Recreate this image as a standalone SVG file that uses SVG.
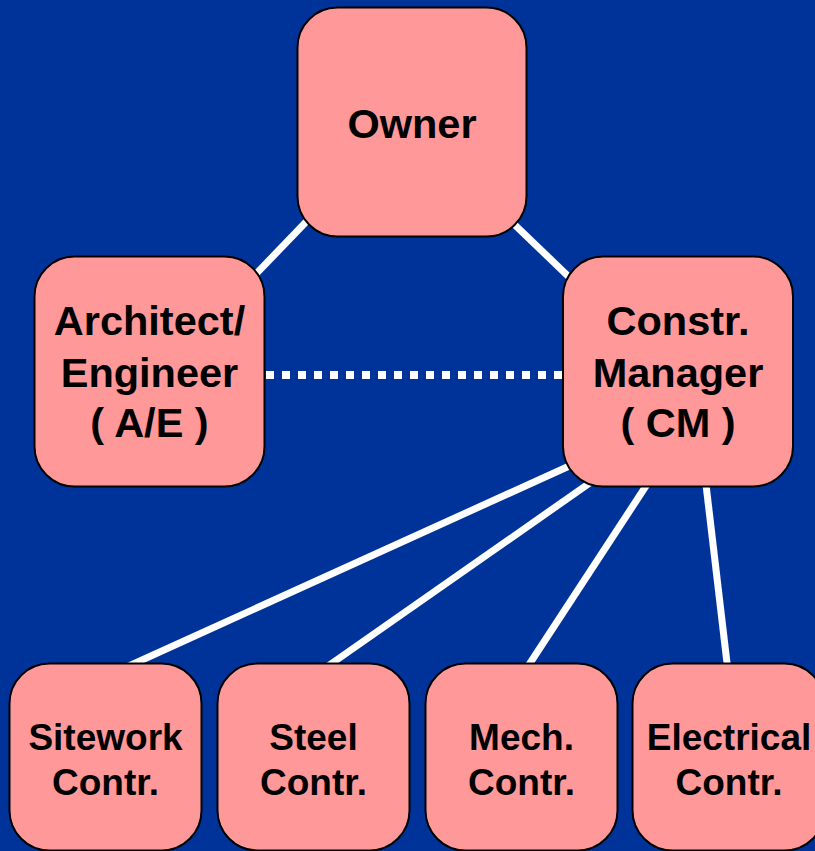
<svg xmlns="http://www.w3.org/2000/svg" width="815" height="851" viewBox="0 0 815 851">
  <defs>
    <style>
      .box { fill: #FF9999; stroke: #000000; stroke-width: 2; }
      .lbl { font-family: "Liberation Sans", Arial, sans-serif; font-weight: bold; fill: #000000; text-anchor: middle; }
      .big { font-size: 41.5px; }
      .small { font-size: 37px; }
      .link { stroke: #FFFFFF; stroke-width: 7; fill: none; }
      .dotted { stroke: #FFFFFF; stroke-width: 8; stroke-dasharray: 8 8; fill: none; }
    </style>
  </defs>

  <!-- background -->
  <rect x="0" y="0" width="815" height="851" fill="#003399"/>

  <!-- connectors -->
  <g id="connectors">
    <line class="link" x1="330" y1="197" x2="230" y2="301"/>
    <line class="link" x1="490" y1="201" x2="595" y2="302"/>
    <line class="dotted" x1="266" y1="375" x2="562" y2="375"/>
    <line class="link" x1="697" y1="408" x2="98" y2="680"/>
    <line class="link" x1="697" y1="408" x2="308" y2="680"/>
    <line class="link" x1="697" y1="408" x2="519" y2="680"/>
    <line class="link" x1="697" y1="408" x2="729" y2="680"/>
  </g>

  <!-- owner -->
  <g id="owner">
    <rect class="box" x="297.5" y="7.5" width="229" height="229" rx="40"/>
    <text class="lbl big" x="412" y="138">Owner</text>
  </g>

  <!-- architect / engineer -->
  <g id="architect-engineer">
    <rect class="box" x="34.5" y="256.5" width="230" height="230" rx="40"/>
    <text class="lbl big" x="149.5" y="335">Architect/</text>
    <text class="lbl big" x="149.5" y="387">Engineer</text>
    <text class="lbl big" x="149.5" y="437">( A/E )</text>
  </g>

  <!-- construction manager -->
  <g id="construction-manager">
    <rect class="box" x="563" y="256.5" width="230" height="230" rx="40"/>
    <text class="lbl big" x="678" y="335">Constr.</text>
    <text class="lbl big" x="678" y="387">Manager</text>
    <text class="lbl big" x="678" y="437">( CM )</text>
  </g>

  <!-- trade contractors -->
  <g id="sitework">
    <rect class="box" x="9.5" y="663.5" width="192" height="187" rx="40"/>
    <text class="lbl small" x="105.5" y="750">Sitework</text>
    <text class="lbl small" x="105.5" y="795">Contr.</text>
  </g>

  <g id="steel">
    <rect class="box" x="217.5" y="663.5" width="192" height="187" rx="40"/>
    <text class="lbl small" x="313.5" y="750">Steel</text>
    <text class="lbl small" x="313.5" y="795">Contr.</text>
  </g>

  <g id="mechanical">
    <rect class="box" x="425.5" y="663.5" width="192" height="187" rx="40"/>
    <text class="lbl small" x="521.5" y="750">Mech.</text>
    <text class="lbl small" x="521.5" y="795">Contr.</text>
  </g>

  <g id="electrical">
    <rect class="box" x="632.5" y="663.5" width="192" height="187" rx="40"/>
    <text class="lbl small" x="729" y="750">Electrical</text>
    <text class="lbl small" x="729" y="795">Contr.</text>
  </g>
</svg>
